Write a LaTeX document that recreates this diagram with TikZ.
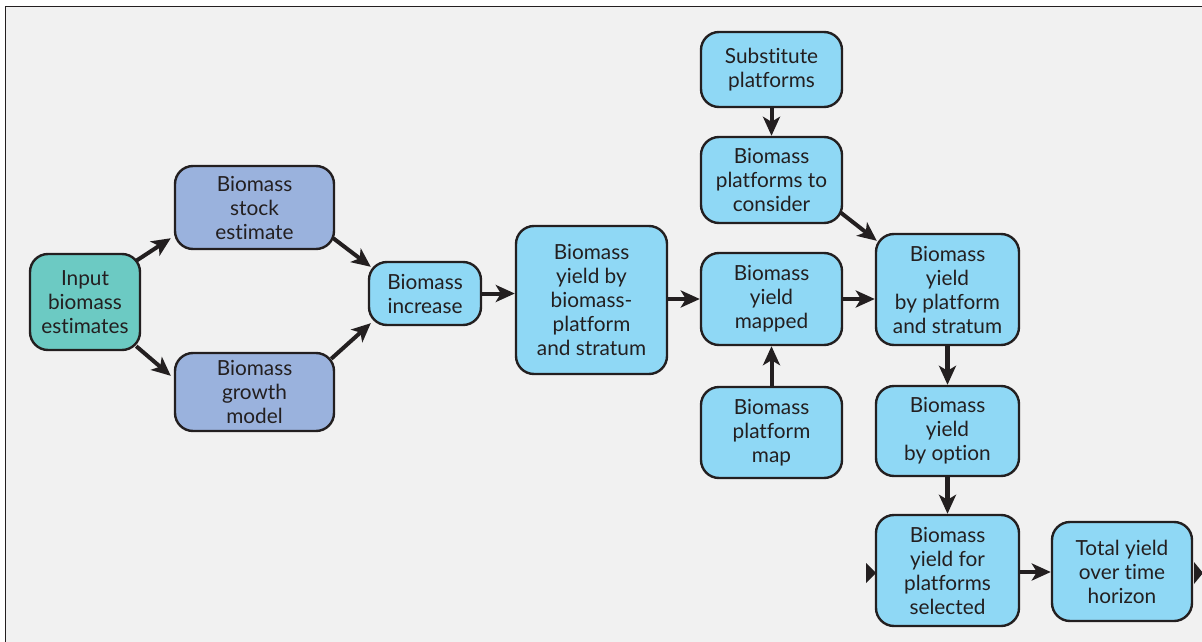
\documentclass[tikz,border=0pt]{standalone}
\usepackage{fontspec}
\setmainfont{Lato}[Ligatures={NoCommon,NoDiscretionary}]
\usetikzlibrary{arrows.meta}
\definecolor{bg}{HTML}{F1F1F1}
\definecolor{edge}{HTML}{231F20}
\definecolor{teal}{HTML}{6CCAC3}
\definecolor{slate}{HTML}{9AB2DD}
\definecolor{sky}{HTML}{8FD8F5}
\tikzset{
  box/.style={draw=edge, line width=2.4pt, rounded corners=18pt, align=center,
    font=\fontsize{20.8}{24}\selectfont, text=edge, inner sep=0pt},
  arr/.style={draw=edge, line width=4pt, -{Stealth[length=19pt,width=17pt,inset=5pt]}},
  thickarr/.style={arr, line width=5pt},
}
\begin{document}
\begin{tikzpicture}[x=1pt,y=-1pt]
\useasboundingbox (0,0) rectangle (1202,642);
\fill[white] (0,0) rectangle (1202,642);
\fill[bg] (5,6) rectangle (1202,642);
\draw[edge, line width=1.5pt] (5.5,642) -- (5.5,6.5) -- (1202,6.5);

\node[box, fill=teal, minimum width=110pt, minimum height=96pt] (in) at (85,302) {Input\\biomass\\estimates};
\node[box, fill=slate, minimum width=159pt, minimum height=83pt] (stock) at (254.5,207.5) {Biomass\\stock\\estimate};
\node[box, fill=slate, minimum width=159pt, minimum height=78pt] (growth) at (254.5,392) {Biomass\\growth\\model};
\node[box, fill=sky, minimum width=112pt, minimum height=63pt] (inc) at (425,293.5) {Biomass\\increase};
\node[box, fill=sky, minimum width=151pt, minimum height=148pt] (ybp) at (591.5,300) {Biomass\\yield by\\biomass-\\platform\\and stratum};
\node[box, fill=sky, minimum width=141pt, minimum height=75pt] (sub) at (771.5,69.5) {Substitute\\platforms};
\node[box, fill=sky, minimum width=141pt, minimum height=86pt] (cons) at (771.5,180) {Biomass\\platforms to\\consider};
\node[box, fill=sky, minimum width=141pt, minimum height=92pt] (mapped) at (771.5,299) {Biomass\\yield\\mapped};
\node[box, fill=sky, minimum width=141pt, minimum height=91pt] (pmap) at (771.5,432.5) {Biomass\\platform\\map};
\node[box, fill=sky, minimum width=143pt, minimum height=111pt] (yps) at (947.5,289.5) {Biomass\\yield\\by platform\\and stratum};
\node[box, fill=sky, minimum width=143pt, minimum height=90pt] (opt) at (947.5,431) {Biomass\\yield\\by option};
\node[box, fill=sky, minimum width=143pt, minimum height=111pt] (sel) at (947.5,570.5) {Biomass\\yield for\\platforms\\selected};
\node[box, fill=sky, minimum width=140pt, minimum height=99pt] (tot) at (1122,571.5) {Total yield\\over time\\horizon};

\draw[arr] ([shift={(-5,8)}]in.north east) -- ([shift={(-3,-12)}]stock.south west);
\draw[arr] ([shift={(-5,-5)}]in.south east) -- ([shift={(-3,24)}]growth.north west);
\draw[arr] ([shift={(-2,-12)}]stock.south east) -- ([shift={(3,6)}]inc.north west);
\draw[arr] ([shift={(-4,7)}]growth.north east) -- ([shift={(3,-3)}]inc.south west);
\draw[arr] (inc.east) -- (ybp.west |- inc.east);
\draw[arr] (ybp.east |- mapped.west) -- (mapped.west);
\draw[arr] (mapped.east) -- (yps.west |- mapped.east);
\draw[arr] (sub.south) -- (cons.north);
\draw[arr] ([shift={(-3,-12)}]cons.south east) -- ([shift={(2,8)}]yps.north west);
\draw[arr] (pmap.north) -- (mapped.south);
\draw[thickarr] (yps.south) -- (opt.north);
\draw[thickarr] (opt.south) -- (sel.north);
\draw[arr] (sel.east |- 0,572) -- (tot.west |- 0,572);

\fill[edge] (866,563) -- (876,573) -- (866,583) -- cycle;
\fill[edge] (1194,562) -- (1203,573) -- (1194,584) -- cycle;
\end{tikzpicture}
\end{document}
